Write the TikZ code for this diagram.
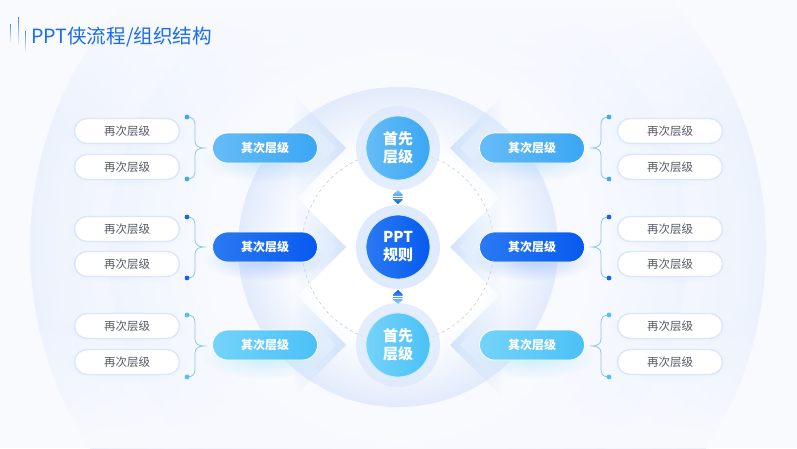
\documentclass[tikz,border=0pt]{standalone}
\usepackage{fontspec}
\setmainfont{Noto Sans CJK SC}
\newfontfamily\cjk{Noto Sans CJK SC}
\usetikzlibrary{fadings,calc}
\definecolor{bgc}{HTML}{F8FAFE}
\definecolor{outA}{HTML}{F6F8FE}
\definecolor{outB}{HTML}{ECF2FD}
\definecolor{midA}{HTML}{F8FAFF}
\definecolor{midB}{HTML}{EFF4FE}
\definecolor{ringB}{HTML}{E2EBFC}
\definecolor{dashc}{HTML}{C4C9D4}
\definecolor{titlec}{HTML}{1A6CF0}
\definecolor{textg}{HTML}{555A63}
\definecolor{terb}{HTML}{DAE6FB}
\definecolor{chevA}{HTML}{C6DCFA}
\definecolor{chevB}{HTML}{E4EFFD}
\definecolor{haloc}{HTML}{DCE8FC}
\definecolor{brc}{HTML}{8FC3F3}
\definecolor{pAl}{HTML}{66BCF7}\definecolor{pAr}{HTML}{3BA6F4}
\definecolor{pBl}{HTML}{2A7AF2}\definecolor{pBr}{HTML}{075AF0}
\definecolor{pCl}{HTML}{74D3F9}\definecolor{pCr}{HTML}{4BC1F6}
\definecolor{dA}{HTML}{3FA9F5}\definecolor{dB}{HTML}{1A62EE}\definecolor{dC}{HTML}{4FC3F7}
\definecolor{glA}{HTML}{A9D6FA}\definecolor{glB}{HTML}{8DB4F8}\definecolor{glC}{HTML}{A8E3FB}
\pgfdeclareradialshading{outersh}{\pgfpoint{0bp}{0bp}}{color(0bp)=(outA); color(18bp)=(outA); color(25bp)=(outB); color(50bp)=(outB)}
\pgfdeclareradialshading{midsh}{\pgfpoint{0bp}{0bp}}{color(0bp)=(midA); color(16bp)=(midA); color(25bp)=(midB); color(50bp)=(midB)}
\pgfdeclareradialshading{ringsh}{\pgfpoint{0bp}{0bp}}{color(0bp)=(white); color(15bp)=(white); color(25bp)=(ringB); color(50bp)=(ringB)}
\tikzfading[name=glowfade, inner color=transparent!0, outer color=transparent!100]
\tikzset{
  sec/.style={rounded corners=15pt, minimum width=105pt, minimum height=30pt, inner sep=0pt,
    text=white, font=\cjk\bfseries\fontsize{12}{14}\selectfont, draw=white, line width=0.8pt},
  ter/.style={rounded corners=12.5pt, minimum width=105pt, minimum height=25pt, inner sep=0pt,
    fill=white, draw=terb, line width=1.4pt, text=textg, font=\cjk\fontsize{11.5}{13}\selectfont},
  hub/.style={circle, minimum size=64pt, inner sep=0pt, draw=white!80!cyan, line width=0.8pt,
    text=white, align=center, font=\cjk\bfseries\fontsize{15}{18}\selectfont},
  brace/.style={draw=brc, line width=0.8pt},
}
\newcommand\glowat[5]{\fill[#5, path fading=glowfade, fill opacity=0.55] (#1,#2) ellipse (#3pt and #4pt);}
\newcommand\chevL[1]{%
  \fill[chevA, path fading=west, fill opacity=0.8] (346,#1) -- (294,#1-52) -- (294,#1+52) -- cycle;
  \fill[chevB, path fading=west, fill opacity=0.8] (336,#1) -- (294,#1-42) -- (294,#1+42) -- cycle;}
\newcommand\chevR[1]{%
  \fill[chevA, path fading=east, fill opacity=0.8] (450,#1) -- (502,#1-52) -- (502,#1+52) -- cycle;
  \fill[chevB, path fading=east, fill opacity=0.8] (460,#1) -- (502,#1-42) -- (502,#1+42) -- cycle;}
\newcommand\braceL[3]{\draw[brace] (#1) .. controls +(6,0) and +(0,-5) .. ($(#1)+(8,8)$) -- ($(#2)+(-9,-7)$) .. controls +(0,5) and +(-5,0) .. (#2) .. controls +(-5,0) and +(0,-5) .. ($(#2)+(-9,7)$) -- ($(#3)+(8,-8)$) .. controls +(0,5) and +(6,0) .. (#3);}
\newcommand\braceR[3]{\draw[brace] (#1) .. controls +(-6,0) and +(0,-5) .. ($(#1)+(-8,8)$) -- ($(#2)+(9,-7)$) .. controls +(0,5) and +(5,0) .. (#2) .. controls +(5,0) and +(0,-5) .. ($(#2)+(9,7)$) -- ($(#3)+(-8,-8)$) .. controls +(0,5) and +(-6,0) .. (#3);}
\begin{document}
\begin{tikzpicture}[x=1pt,y=-1pt]
\useasboundingbox (0,0) rectangle (797,448);
\fill[bgc] (0,0) rectangle (797,448);
\coordinate (C) at (398,247);
% background rings
\shade[shading=outersh] (C) circle (368pt);
\shade[shading=midsh] (C) circle (290pt);
\fill[bgc, path fading=north] (0,320) rectangle (797,448);
\fill[bgc, path fading=south] (0,0) rectangle (797,130);
\shade[shading=ringsh] (C) circle (160pt);
\draw[dashc, dash pattern=on 3pt off 3pt, line width=0.6pt] (C) circle (96pt);
% title
\foreach \x/\a/\b in {10/24/43, 18/17/46, 25/31/53}
  \fill[titlec, path fading=south, fill opacity=0.8] (\x-0.45,\a) rectangle (\x+0.45,\b);
\node[anchor=west, text=titlec, font=\cjk\fontsize{19.6}{22}\selectfont, inner sep=0pt] (title) at (31,37.5) {PPT侠流程/组织结构};
% chevrons
\chevL{148}\chevL{247}\chevL{345}
\chevR{148}\chevR{247}\chevR{345}
% glows
\glowat{265}{160}{62}{22}{glA}\glowat{265}{259}{62}{22}{glB}\glowat{265}{357}{62}{22}{glC}
\glowat{532}{160}{62}{22}{glA}\glowat{532}{259}{62}{22}{glB}\glowat{532}{357}{62}{22}{glC}
\foreach \y in {131,167,229,264,326,362}{
  \glowat{127}{\y+2}{62}{18}{terb}\glowat{670}{\y+2}{62}{18}{terb}}
% halos
\fill[haloc, fill opacity=0.75] (398,148) circle (42pt);
\fill[haloc, fill opacity=0.9] (C) circle (42pt);
\fill[haloc, fill opacity=0.75] (398,345) circle (42pt);
% hubs
\node[hub, left color=pAl, right color=pAr] (h1) at (398,148) {首先\\层级};
\node[hub, left color=pBl, right color=pBr] (h2) at (C) {PPT\\规则};
\node[hub, left color=pCl, right color=pCr] (h3) at (398,345) {首先\\层级};
% small up-down markers
\coordinate (m1) at (398,197);
\coordinate (m2) at (398,297);
\shade[top color=pAl!70, bottom color=pBr] ($(m1)+(0,-7)$) -- ($(m1)+(4.5,-3)$) -- ($(m1)+(4.5,3)$) -- ($(m1)+(0,7)$) -- ($(m1)+(-4.5,3)$) -- ($(m1)+(-4.5,-3)$) -- cycle;
\shade[top color=pBr, bottom color=pCl!70] ($(m2)+(0,-7)$) -- ($(m2)+(4.5,-3)$) -- ($(m2)+(4.5,3)$) -- ($(m2)+(0,7)$) -- ($(m2)+(-4.5,3)$) -- ($(m2)+(-4.5,-3)$) -- cycle;
\foreach \m in {m1,m2}{
  \draw[white, line width=0.7pt] ($(\m)+(-5,-1)$) -- ($(\m)+(5,-1)$);
  \draw[white, line width=0.7pt] ($(\m)+(-5,1.5)$) -- ($(\m)+(5,1.5)$);}
% second-level pills
\node[sec, left color=pAl, right color=pAr] (l1) at (265,148) {其次层级};
\node[sec, left color=pBl, right color=pBr] (l2) at (265,247) {其次层级};
\node[sec, left color=pCl, right color=pCr] (l3) at (265,345) {其次层级};
\node[sec, left color=pAl, right color=pAr] (r1) at (532,148) {其次层级};
\node[sec, left color=pBl, right color=pBr] (r2) at (532,247) {其次层级};
\node[sec, left color=pCl, right color=pCr] (r3) at (532,345) {其次层级};
% third-level pills
\node[ter] (la1) at (127,131) {再次层级};
\node[ter] (la2) at (127,167) {再次层级};
\node[ter] (lb1) at (127,229) {再次层级};
\node[ter] (lb2) at (127,264) {再次层级};
\node[ter] (lc1) at (127,326) {再次层级};
\node[ter] (lc2) at (127,362) {再次层级};
\node[ter] (ra1) at (670,131) {再次层级};
\node[ter] (ra2) at (670,167) {再次层级};
\node[ter] (rb1) at (670,229) {再次层级};
\node[ter] (rb2) at (670,264) {再次层级};
\node[ter] (rc1) at (670,326) {再次层级};
\node[ter] (rc2) at (670,362) {再次层级};
% braces
\coordinate (lat) at (187,117); \coordinate (lam) at (204,148); \coordinate (lab) at (187,179);
\coordinate (lbt) at (187,217); \coordinate (lbm) at (204,247); \coordinate (lbb) at (187,278);
\coordinate (lct) at (187,315); \coordinate (lcm) at (204,346); \coordinate (lcb) at (187,377);
\coordinate (rat) at (609,117); \coordinate (ram) at (592,148); \coordinate (rab) at (609,179);
\coordinate (rbt) at (609,217); \coordinate (rbm) at (592,247); \coordinate (rbb) at (609,278);
\coordinate (rct) at (609,315); \coordinate (rcm) at (592,346); \coordinate (rcb) at (609,377);
\braceL{lat}{lam}{lab}\braceL{lbt}{lbm}{lbb}\braceL{lct}{lcm}{lcb}
\braceR{rat}{ram}{rab}\braceR{rbt}{rbm}{rbb}\braceR{rct}{rcm}{rcb}
\foreach \p/\c in {lat/dA,lab/dA,rat/dA,rab/dA,lbt/dB,lbb/dB,rbt/dB,rbb/dB,lct/dC,lcb/dC,rct/dC,rcb/dC}
  \fill[\c] (\p) circle (2.4pt);
\end{tikzpicture}
\end{document}
